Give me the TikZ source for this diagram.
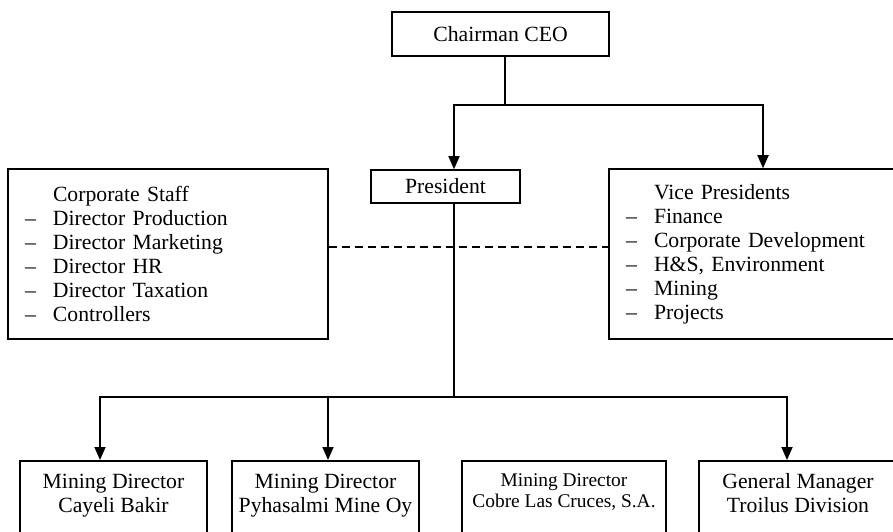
\documentclass[tikz,border=0pt]{standalone}
\usepackage{fontspec}
\setmainfont{Liberation Serif}
\usetikzlibrary{arrows.meta, positioning}

\newcommand{\dashitem}[1]{\makebox[28pt][l]{--}#1}

\begin{document}
\begin{tikzpicture}[x=1pt, y=1pt, line width=1.7pt,
	font=\fontsize{21.7}{24}\selectfont,
	box/.style={draw, line width=1.5pt, inner sep=0pt},
	listbox/.style={draw, line width=1.5pt, align=left, inner xsep=17pt, inner ysep=0pt, text width=#1, minimum height=170pt},
	unitbox/.style={draw, line width=1.5pt, align=center, anchor=north, minimum width=#1, inner ysep=13pt, text depth=60pt},
	arrow/.style={-{Triangle[length=13pt, width=11pt]}}]
	\useasboundingbox (0,0) rectangle (893,531);

	\node[box, minimum width=217pt, minimum height=44pt] (ceo) at (500.5,497) {Chairman CEO};
	\node[box, minimum width=149pt, minimum height=33pt] (pres) at (445.5,344.5) {President};
	\node[listbox=286pt] (staff) at (168,277) {\hspace*{28pt}Corporate Staff\\
		\dashitem{Director Production}\\ \dashitem{Director Marketing}\\
		\dashitem{Director HR}\\ \dashitem{Director Taxation}\\ \dashitem{Controllers}};
	\node[listbox=266pt] (vp) at (759,277) {\hspace*{28pt}Vice Presidents\\
		\dashitem{Finance}\\ \dashitem{Corporate Development}\\
		\dashitem{H\&S, Environment}\\ \dashitem{Mining}\\ \dashitem{Projects}};

	\node[unitbox=187pt] (cayeli) at (113.5,71) {Mining Director\\Cayeli Bakir};
	\node[unitbox=187pt] (pyhasalmi) at (325.5,71) {Mining Director\\Pyhasalmi Mine Oy};
	\node[unitbox=204pt, font=\fontsize{19.4}{21}\selectfont] (cobre) at (564,71) {Mining Director\\Cobre Las Cruces, S.A.};
	\node[unitbox=198pt] (troilus) at (798,71) {General Manager\\Troilus Division};

	\coordinate (top split) at (505,426);
	\coordinate (low split) at (454,134);

	\draw (ceo.south -| top split) -- (top split);
	\draw[arrow] (top split) -| ([xshift=8.5pt]pres.north);
	\draw[arrow] (top split) -| ([xshift=4pt]vp.north);
	\draw[dash pattern=on 8pt off 5pt] ([yshift=7pt]staff.east) -- ([yshift=7pt]vp.west);

	\draw ([xshift=8.5pt]pres.south) -- (low split);
	\draw[arrow] (low split) -| ([xshift=-13.5pt]cayeli.north);
	\draw[arrow] (low split) -| ([xshift=2.5pt]pyhasalmi.north);
	\draw[arrow] (low split) -| ([xshift=-11pt]troilus.north);
\end{tikzpicture}
\end{document}
